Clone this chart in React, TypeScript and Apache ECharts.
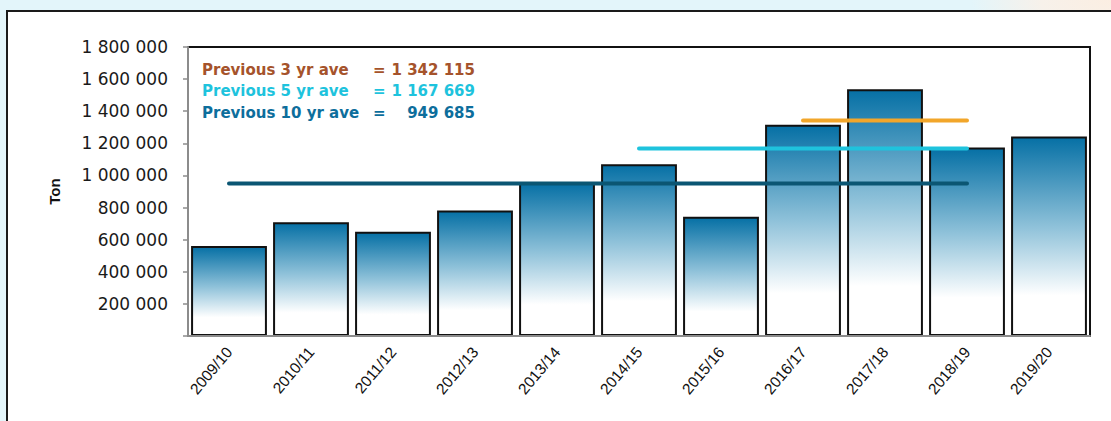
import React, { useEffect, useRef } from "react";
import * as echarts from "echarts";

const categories = ["2009/10", "2010/11", "2011/12", "2012/13", "2013/14", "2014/15", "2015/16", "2016/17", "2017/18", "2018/19", "2019/20"];
const tons = [561000, 709000, 649000, 782000, 957500, 1070000, 742000, 1315000, 1537000, 1174300, 1243000];
const avg3 = 1342115;
const avg5 = 1167669;
const avg10 = 949685;
// start index and end index (inclusive) of each average line
const avg3Range = [7, 9];
const avg5Range = [5, 9];
const avg10Range = [0, 9];
const legendLabels = ["Previous 3 yr ave", "Previous 5 yr ave", "Previous 10 yr ave"];
const legendValues = ["1 342 115", "1 167 669", "949 685"];

const FONT = "Arial, 'Liberation Sans', sans-serif";
const WIDE = "'DejaVu Sans', Verdana, sans-serif";

function fmt(v: number) {
  return String(v).replace(/\B(?=(\d{3})+(?!\d))/g, " ");
}

function lineData(value: number, range: number[]) {
  return categories.map((_, i) => (i >= range[0] && i <= range[1] ? value : null));
}

export default function App() {
  const ref = useRef<HTMLDivElement>(null);
  useEffect(() => {
    if (!ref.current) return;
    const chart = echarts.init(ref.current, undefined, { renderer: "svg" });
    const legendColors = ["#a5532b", "#1ec3dd", "#0d6e9c"];
    const legendY = [69.5, 91, 112.5];
    const graphics: any[] = [
      {
        type: "rect",
        z: -10,
        shape: { x: 7, y: 11, width: 1120, height: 420 },
        style: { fill: "#ffffff", stroke: "#1a1a1a", lineWidth: 2 },
      },
    ];
    const legendFont = `bold 15px ${WIDE}`;
    legendLabels.forEach((lab, i) => {
      graphics.push({
        type: "text",
        z: 100,
        x: 202,
        y: legendY[i],
        style: { text: lab, fill: legendColors[i], font: legendFont, textVerticalAlign: "middle", textAlign: "left" },
      });
      graphics.push({
        type: "text",
        z: 100,
        x: 373,
        y: legendY[i],
        style: { text: "=", fill: legendColors[i], font: legendFont, textVerticalAlign: "middle", textAlign: "left" },
      });
      graphics.push({
        type: "text",
        z: 100,
        x: 475,
        y: legendY[i],
        style: { text: legendValues[i], fill: legendColors[i], font: legendFont, textVerticalAlign: "middle", textAlign: "right" },
      });
    });

    const lineSeries = (name: string, data: any[], color: string) => ({
      name,
      type: "line",
      data,
      symbol: "none",
      z: 5,
      lineStyle: { color, width: 4, cap: "round" },
      connectNulls: false,
    });

    chart.setOption({
      animation: false,
      backgroundColor: "transparent",
      textStyle: { fontFamily: FONT },
      graphic: graphics,
      grid: {
        left: 188,
        right: 21,
        top: 47,
        bottom: 85,
        show: true,
        backgroundColor: "transparent",
        borderColor: "#111111",
        borderWidth: 2,
      },
      xAxis: {
        type: "category",
        data: categories,
        axisLine: { show: true, lineStyle: { color: "#8c8c8c", width: 2 } },
        axisTick: { show: false },
        axisLabel: { rotate: 50, color: "#111111", fontSize: 15.5, margin: 13, fontFamily: FONT, interval: 0 },
        z: 10,
      },
      yAxis: {
        type: "value",
        min: 0,
        max: 1800000,
        interval: 200000,
        name: "Ton",
        nameLocation: "middle",
        nameGap: 126,
        nameRotate: 90,
        nameTextStyle: { fontWeight: "bold", fontSize: 15, color: "#111111", fontFamily: FONT },
        splitLine: { show: false },
        axisLine: { show: true, lineStyle: { color: "#8c8c8c", width: 2 } },
        axisTick: { show: true, length: 5, lineStyle: { color: "#8c8c8c", width: 1.5 } },
        axisLabel: {
          color: "#1a1a1a",
          fontSize: 17,
          margin: 20,
          fontFamily: WIDE,
          formatter: (v: number) => (v === 0 ? "" : fmt(v)),
        },
        z: 10,
      },
      series: [
        {
          name: "Ton",
          type: "bar",
          data: tons,
          barCategoryGap: "7.5%",
          z: 2,
          itemStyle: {
            borderColor: "#111111",
            borderWidth: 2,
            color: new echarts.graphic.LinearGradient(0, 0, 0, 1, [
              { offset: 0, color: "#0670a5" },
              { offset: 0.45, color: "#8ec1d9" },
              { offset: 0.8, color: "#ffffff" },
              { offset: 1, color: "#ffffff" },
            ]),
          },
        },
        lineSeries("10 yr", lineData(avg10, avg10Range), "#0b5673"),
        lineSeries("5 yr", lineData(avg5, avg5Range), "#1fc3dd"),
        lineSeries("3 yr", lineData(avg3, avg3Range), "#f2a62a"),
      ],
    });
    return () => chart.dispose();
  }, []);

  return (
    <div
      style={{
        position: "fixed",
        left: 0,
        top: 0,
        width: 1111,
        height: 421,
        background: "radial-gradient(ellipse 140px 60px at 1111px 0px, #fbeee2 0%, #f7f1ea 50%, rgba(227,245,250,0) 100%), #e3f5fa",
      }}
    >
      <div ref={ref} style={{ width: 1111, height: 421 }} />
    </div>
  );
}
